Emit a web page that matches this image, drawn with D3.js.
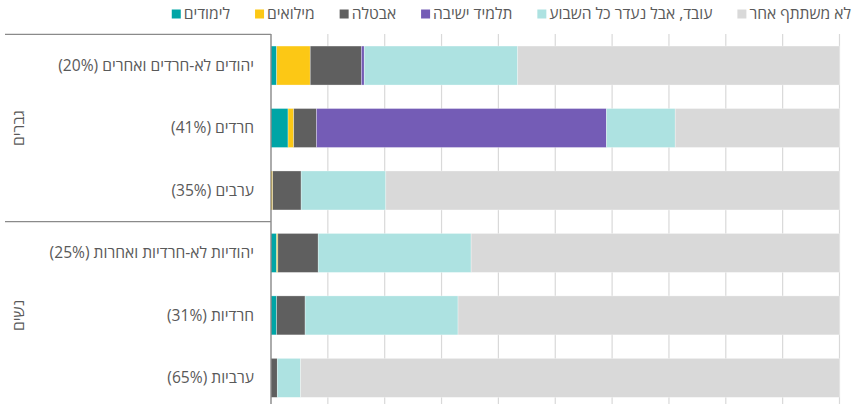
<!DOCTYPE html>
<html>
<head>
<meta charset="utf-8">
<script src="https://cdn.jsdelivr.net/npm/d3@7"></script>
<style>
  body { margin: 0; background: #fff; }
  svg { display: block; font-family: "Open Sans", "DejaVu Sans", sans-serif; }
</style>
</head>
<body>
<svg id="chart" width="854" height="404"></svg>
<script>
// categories, top to bottom
var categories = [
  'יהודים לא-חרדים ואחרים (20%)',
  'חרדים (41%)',
  'ערבים (35%)',
  'יהודיות לא-חרדיות ואחרות (25%)',
  'חרדיות (31%)',
  'ערביות (65%)'
];
var groups = ['גברים', 'נשים'];
var groupOf = [0, 0, 0, 1, 1, 1];

// series, stacked left to right
var seriesNames = ['לימודים', 'מילואים', 'אבטלה', 'תלמיד ישיבה', 'עובד, אבל נעדר כל השבוע', 'לא משתתף אחר'];
var colors = ['#00a5a6', '#fcc815', '#5f5f5f', '#745cb6', '#ade2e1', '#d9d9d9'];

// values in %, one array per series (same order as categories)
var studies   = [1.0, 3.0, 0.0, 1.0, 1.0, 0.0];
var reserve   = [5.9, 1.0, 0.3, 0.2, 0.0, 0.0];
var unemploy  = [9.0, 4.0, 5.0, 7.1, 5.0, 1.1];
var yeshiva   = [0.5, 51.0, 0.0, 0.0, 0.0, 0.0];
var absent    = [27.0, 12.1, 14.9, 26.9, 26.9, 4.1];
var other     = [56.6, 28.9, 79.8, 64.8, 67.1, 94.8];

var xTicks = [0, 10, 20, 30, 40, 50, 60, 70, 80, 90, 100];

var seriesValues = [studies, reserve, unemploy, yeshiva, absent, other];

var rows = categories.map(function(c, i) {
  var r = { cat: c };
  seriesNames.forEach(function(s, j) { r[s] = seriesValues[j][i]; });
  return r;
});

var svg = d3.select('#chart');
var textColor = '#595959';
var fontSize = '15.6px';

var x = d3.scaleLinear()
  .domain([0, 100])
  .range([271, 839.5]);

var y = d3.scaleBand()
  .domain(categories)
  .range([34.3, 409.1])
  .paddingInner(0.376)
  .paddingOuter(0.188);

// gridlines
svg.append('g')
  .selectAll('line')
  .data(xTicks.slice(1))
  .enter().append('line')
  .attr('x1', function(d) { return x(d); })
  .attr('x2', function(d) { return x(d); })
  .attr('y1', 34)
  .attr('y2', 404)
  .attr('stroke', '#d9d9d9')
  .attr('stroke-width', 1.2);

// stacked bars
var stack = d3.stack().keys(seriesNames);
var layers = stack(rows);

svg.append('g')
  .selectAll('g')
  .data(layers)
  .enter().append('g')
  .attr('fill', function(d, i) { return colors[i]; })
  .selectAll('rect')
  .data(function(d) { return d; })
  .enter().append('rect')
  .attr('x', function(d) { return x(d[0]); })
  .attr('width', function(d) { return x(d[1]) - x(d[0]); })
  .attr('y', function(d) { return y(d.data.cat); })
  .attr('height', y.bandwidth())
  .attr('stroke', '#ffffff')
  .attr('stroke-opacity', 0.5)
  .attr('stroke-width', 0.6);

// axis line
svg.append('line')
  .attr('x1', x(0)).attr('x2', x(0))
  .attr('y1', 34).attr('y2', 404)
  .attr('stroke', '#7f7f7f')
  .attr('stroke-width', 1.3);

// group separators
var step = y.step();
var sepY = [y.range()[0], y.range()[0] + step * 3];
svg.append('g')
  .selectAll('line')
  .data(sepY)
  .enter().append('line')
  .attr('x1', 5).attr('x2', x(0))
  .attr('y1', function(d) { return d; })
  .attr('y2', function(d) { return d; })
  .attr('stroke', '#8a8a8a')
  .attr('stroke-width', 1.3);

// category labels
svg.append('g')
  .selectAll('text')
  .data(categories)
  .enter().append('text')
  .attr('x', x(0) - 17)
  .attr('y', function(d) { return y(d) + y.bandwidth() / 2; })
  .attr('dy', '0.35em')
  .attr('direction', 'rtl')
  .attr('text-anchor', 'start')
  .attr('fill', textColor)
  .style('font-size', fontSize)
  .text(function(d) { return d; });

// group labels
groups.forEach(function(g, gi) {
  var idx = categories.filter(function(c, i) { return groupOf[i] === gi; });
  var mid = (y(idx[0]) + y(idx[idx.length - 1]) + y.bandwidth()) / 2;
  svg.append('text')
    .attr('transform', 'translate(19,' + mid + ') rotate(-90)')
    .attr('dy', '0.35em')
    .attr('text-anchor', 'middle')
    .attr('fill', textColor)
    .style('font-size', fontSize)
    .text(g);
});

// legend, laid out from the right edge
var legend = svg.append('g');
var lx = 851;
for (var i = seriesNames.length - 1; i >= 0; i--) {
  var t = legend.append('text')
    .attr('x', lx)
    .attr('y', 14)
    .attr('dy', '0.35em')
    .attr('direction', 'rtl')
    .attr('text-anchor', 'start')
    .attr('fill', textColor)
    .style('font-size', fontSize)
    .text(seriesNames[i]);
  var w = t.node().getComputedTextLength();
  legend.append('rect')
    .attr('x', lx - w - 3 - 9)
    .attr('y', 9.5)
    .attr('width', 9)
    .attr('height', 9)
    .attr('fill', colors[i]);
  lx = lx - w - 3 - 9 - 25;
}
</script>
</body>
</html>
